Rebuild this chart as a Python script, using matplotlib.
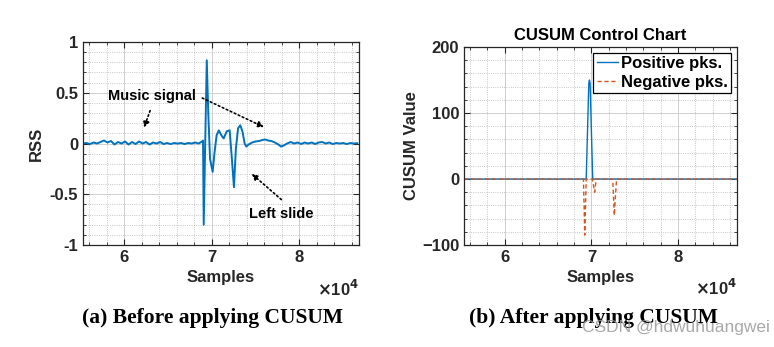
import numpy as np
import matplotlib.pyplot as plt
from matplotlib.ticker import MultipleLocator, FixedLocator, FixedFormatter

# ---------------- datos ----------------
# (a) senal RSS
rss_x = [55300, 55700, 56100, 56500, 56900, 57300, 57700, 58100, 58500, 58900,
         59300, 59700, 60100, 60500, 60900, 61300, 61700, 62100, 62500, 62900,
         63300, 63700, 64100, 64500, 64900, 65300, 65700, 66100, 66500, 66900,
         67300, 67700, 68100, 68500, 68900,
         69000, 69080, 69250, 69430, 69600, 69800, 70100, 70300, 70550, 70800,
         71100, 71360, 71700, 72040, 72250, 72530, 72750, 73000, 73250, 73500,
         73750, 73940, 74200,
         74600, 75000, 75400, 75800, 76100, 76400, 76800, 77200, 77600, 77900,
         78200, 78600, 79000, 79400, 79800, 80200, 80600, 81000, 81400, 81800,
         82200, 82600, 83000, 83400, 83800, 84200, 84600, 85000, 85400, 85800,
         86200, 86600]
rss_y = [0.0, 0.005, -0.005, 0.01, 0.0, 0.015, 0.03, 0.01, 0.025, -0.01,
         0.015, 0.0, 0.02, -0.01, 0.015, -0.005, 0.02, 0.0, 0.015, -0.01,
         0.01, 0.0, 0.015, -0.005, 0.005, -0.005, 0.005, 0.0, 0.005, -0.005,
         0.005, 0.0, 0.01, 0.0, 0.02,
         0.03, -0.80, 0.0, 0.82, 0.30, -0.15, -0.28, -0.10, 0.08, 0.13,
         0.08, 0.05, 0.12, 0.13, -0.10, -0.43, -0.05, 0.15, 0.18, 0.12,
         0.0, -0.03, -0.01,
         0.01, 0.02, 0.025, 0.035, 0.04, 0.03, 0.025, 0.01, -0.01, -0.03,
         -0.02, 0.0, 0.015, 0.0, 0.01, -0.005, 0.01, 0.0, 0.01, -0.005,
         0.01, 0.015, 0.0, 0.01, -0.005, 0.005, 0.0, 0.005, -0.005, 0.005,
         0.0, 0.003]

# (b) CUSUM
pos_x = [55300, 69400, 69700, 69770, 69850, 70150, 86800]
pos_y = [0, 0, 145, 150, 145, 0, 0]
neg_x = [55300, 69080, 69230, 69400, 70100, 70380, 70550, 72460, 72640, 72900, 86800]
neg_y = [0, 0, -85, 0, 0, -20, 0, 0, -55, 0, 0]

xticks = [60000, 70000, 80000]
xtick_labels = ["6", "7", "8"]
xlim = (55300, 86800)

azul = "#0072BD"
naranja = "#D95319"
gris_ejes = "#262626"

plt.rcParams['font.family'] = ['Liberation Sans', 'DejaVu Sans']
plt.rcParams['font.weight'] = 'bold'

fig = plt.figure(figsize=(7.74, 3.47), dpi=100)
ax1 = fig.add_axes([0.1072, 0.2939, 0.3566, 0.585])
ax2 = fig.add_axes([0.5995, 0.2939, 0.3527, 0.5706])


def estilo_matlab(ax, ymaj, ymin):
    ax.set_xlim(*xlim)
    ax.xaxis.set_major_locator(FixedLocator(xticks))
    ax.xaxis.set_major_formatter(FixedFormatter(xtick_labels))
    ax.xaxis.set_minor_locator(MultipleLocator(2000))
    ax.yaxis.set_major_locator(MultipleLocator(ymaj))
    ax.yaxis.set_minor_locator(MultipleLocator(ymin))
    ax.grid(which='major', color='#cfcfcf', lw=0.7, ls='-')
    ax.grid(which='minor', color='#b5b5b5', lw=0.6, ls=':')
    ax.set_axisbelow(True)
    ax.tick_params(which='both', direction='in', top=True, right=True,
                   colors=gris_ejes, labelsize=12)
    ax.tick_params(which='major', length=4, width=0.8)
    ax.tick_params(which='minor', length=2, width=0.6)
    for s in ax.spines.values():
        s.set_color(gris_ejes)
        s.set_linewidth(0.9)
    ax.set_xlabel("Samples", fontsize=12, fontweight='bold', color=gris_ejes, labelpad=4)
    ax.text(1.0, -0.215, r"$\times$10$^4$", transform=ax.transAxes, ha='right',
            va='center', fontsize=12, color=gris_ejes)


# ---------------- (a) antes de CUSUM ----------------
ax1.plot(rss_x, rss_y, color=azul, lw=1.4)
ax1.set_ylim(-1, 1)
estilo_matlab(ax1, 0.5, 0.1)
ax1.set_yticks([-1, -0.5, 0, 0.5, 1])
ax1.set_yticklabels(["-1", "-0.5", "0", "0.5", "1"])
ax1.set_ylabel("RSS", fontsize=12, fontweight='bold', color=gris_ejes, labelpad=4)

flecha = dict(arrowstyle='-|>', ls=':', color='k', lw=1.2, mutation_scale=9)
ax1.text(63200, 0.47, "Music signal", fontsize=10.5, fontweight='bold',
         ha='center', va='center', color='k')
ax1.annotate("", xy=(62160, 0.13), xytext=(63070, 0.35), arrowprops=flecha)
ax1.annotate("", xy=(76240, 0.15), xytext=(68630, 0.46), arrowprops=flecha)
ax1.text(77950, -0.69, "Left slide", fontsize=10.5, fontweight='bold',
         ha='center', va='center', color='k')
ax1.annotate("", xy=(74310, -0.28), xytext=(78180, -0.57), arrowprops=flecha)

# ---------------- (b) despues de CUSUM ----------------
ax2.plot(pos_x, pos_y, color=azul, lw=1.0, label="Positive pks.")
ax2.plot(neg_x, neg_y, color=naranja, lw=1.0, ls='--', dashes=(3, 2), label="Negative pks.")
ax2.set_ylim(-100, 200)
estilo_matlab(ax2, 100, 20)
ax2.set_ylabel("CUSUM Value", fontsize=12, fontweight='bold', color=gris_ejes, labelpad=2)
ax2.set_title("CUSUM Control Chart", fontsize=12, fontweight='bold', color='k', pad=5)
leg = ax2.legend(loc='upper right', fontsize=12, handlelength=1.3, handletextpad=0.15,
                 borderpad=0.2, labelspacing=0.2, fancybox=False, framealpha=1,
                 borderaxespad=0.35)
leg.get_frame().set_edgecolor('k')
leg.get_frame().set_linewidth(0.9)

# ---------------- leyendas de subfiguras ----------------
fig.text(0.274, 0.083, "(a) Before applying CUSUM", fontsize=15.5, fontweight='bold',
         family=['Liberation Serif', 'DejaVu Serif'], ha='center', va='center')
fig.text(0.767, 0.083, "(b) After applying CUSUM", fontsize=15.5, fontweight='bold',
         family=['Liberation Serif', 'DejaVu Serif'], ha='center', va='center')
fig.text(0.995, 0.055, "CSDN @hdwuhuangwei", fontsize=12.5, fontweight='normal',
         color='#9a9a9a', alpha=0.85, ha='right', va='center')

fig.savefig("out.png", dpi=100)
